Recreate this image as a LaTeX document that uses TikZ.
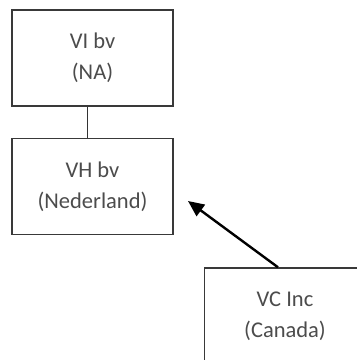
\documentclass[tikz,border=0pt]{standalone}
\usepackage{fontspec}
\setmainfont{Carlito}
\usetikzlibrary{arrows.meta, positioning}

\begin{document}
\begin{tikzpicture}[x=1pt, y=-1pt,
  box/.style={rectangle, draw=gray!45!black, line width=1.4pt, fill=white,
              align=center, minimum width=161pt, minimum height=96pt,
              inner sep=0pt, text=gray!60!black,
              font=\fontsize{22.5}{31}\selectfont},
  link/.style={line width=1pt, draw=black!80},
  arr/.style={-{Triangle[length=16pt, width=14pt]}, line width=2.4pt, black}
]
\useasboundingbox (0,0) rectangle (357,360);
\clip (0,0) rectangle (357,360);

\node[box] (vi) at (92.5,58) {VI bv\\(NA)};
\node[box, below=31pt of vi] (vh) {VH bv\\(Nederland)};
\node[box] (vc) at (285,316) {VC Inc\\(Canada)};

\coordinate (tip) at (188,201);

\draw[link] ([xshift=-5pt]vi.south) -- ([xshift=-5pt]vh.north);
\draw[arr] ([xshift=-7pt]vc.north) -- (tip);

\end{tikzpicture}
\end{document}
